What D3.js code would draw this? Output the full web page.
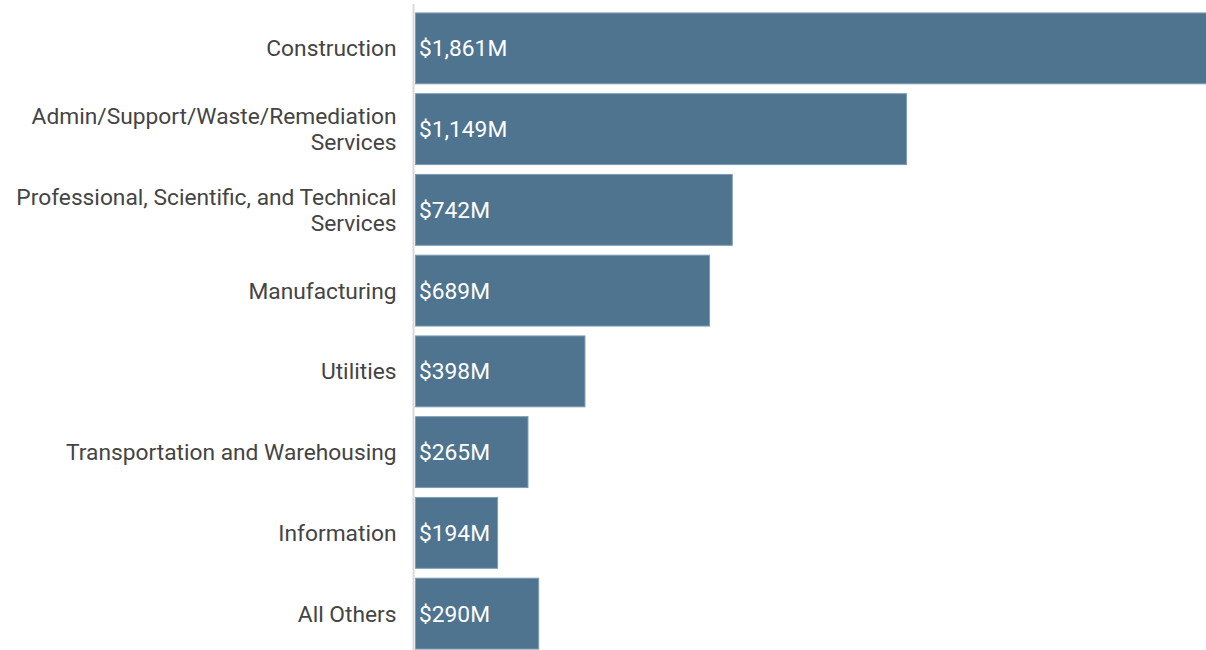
<!DOCTYPE html>
<html>
<head>
<meta charset="utf-8">
<script src="https://cdn.jsdelivr.net/npm/d3@7"></script>
<style>
  html, body { margin: 0; padding: 0; background: #fff; }
  svg { display: block; }
</style>
</head>
<body>
<svg id="chart" width="1206" height="650"></svg>
<script>
// Spending by industry sector, millions of dollars
const categories = [
  ["Construction"],
  ["Admin/Support/Waste/Remediation", "Services"],
  ["Professional, Scientific, and Technical", "Services"],
  ["Manufacturing"],
  ["Utilities"],
  ["Transportation and Warehousing"],
  ["Information"],
  ["All Others"]
];
const values = [1861, 1149, 742, 689, 398, 265, 194, 290];

const width = 1206, height = 650;
const margin = { top: 12, right: 0, bottom: 0, left: 415 };

const svg = d3.select("#chart");

const keys = categories.map(c => c.join(" "));

const x = d3.scaleLinear()
  .domain([0, 1861])
  .range([margin.left, margin.left + 797]);

const y = d3.scaleBand()
  .domain(keys)
  .range([margin.top - 4, 654])
  .paddingInner(0.11)
  .paddingOuter(0.055);

const fmt = v => "$" + d3.format(",")(v) + "M";

// bars
svg.append("g")
  .selectAll("rect")
  .data(values)
  .join("rect")
  .attr("x", x(0) + 0.5)
  .attr("y", (d, i) => y(keys[i]) + 0.5)
  .attr("width", d => x(d) - x(0) - 1)
  .attr("height", y.bandwidth() - 1)
  .attr("fill", "#4e7490")
  .attr("stroke", "#7f9cb1")
  .attr("stroke-width", 1);

// value labels inside bars
svg.append("g")
  .selectAll("text")
  .data(values)
  .join("text")
  .attr("x", x(0) + 4)
  .attr("y", (d, i) => y(keys[i]) + y.bandwidth() / 2)
  .attr("dy", "0.35em")
  .attr("fill", "#ffffff")
  .style("font-family", "Roboto, sans-serif")
  .style("font-size", "22.75px")
  .text(d => fmt(d));

// category axis
const axis = d3.axisLeft(y).tickSize(0).tickPadding(0).tickFormat("");
const ax = svg.append("g")
  .attr("transform", `translate(${margin.left - 1.5},0)`)
  .call(axis);
ax.select(".domain").remove();
ax.append("line")
  .attr("x1", 0).attr("x2", 0)
  .attr("y1", 4).attr("y2", height)
  .attr("stroke", "#d9d9d9")
  .attr("stroke-width", 2);

ax.selectAll(".tick").each(function(key, i) {
  const lines = categories[i];
  const lh = 26;
  const t = d3.select(this).append("text")
    .attr("x", -17)
    .attr("text-anchor", "end")
    .attr("fill", "#444444")
    .style("font-family", "Roboto, sans-serif")
    .style("font-size", "22.75px");
  lines.forEach((ln, j) => {
    t.append("tspan")
      .attr("x", -17)
      .attr("y", (j - (lines.length - 1) / 2) * lh)
      .attr("dy", "0.35em")
      .text(ln);
  });
});
</script>
</body>
</html>
